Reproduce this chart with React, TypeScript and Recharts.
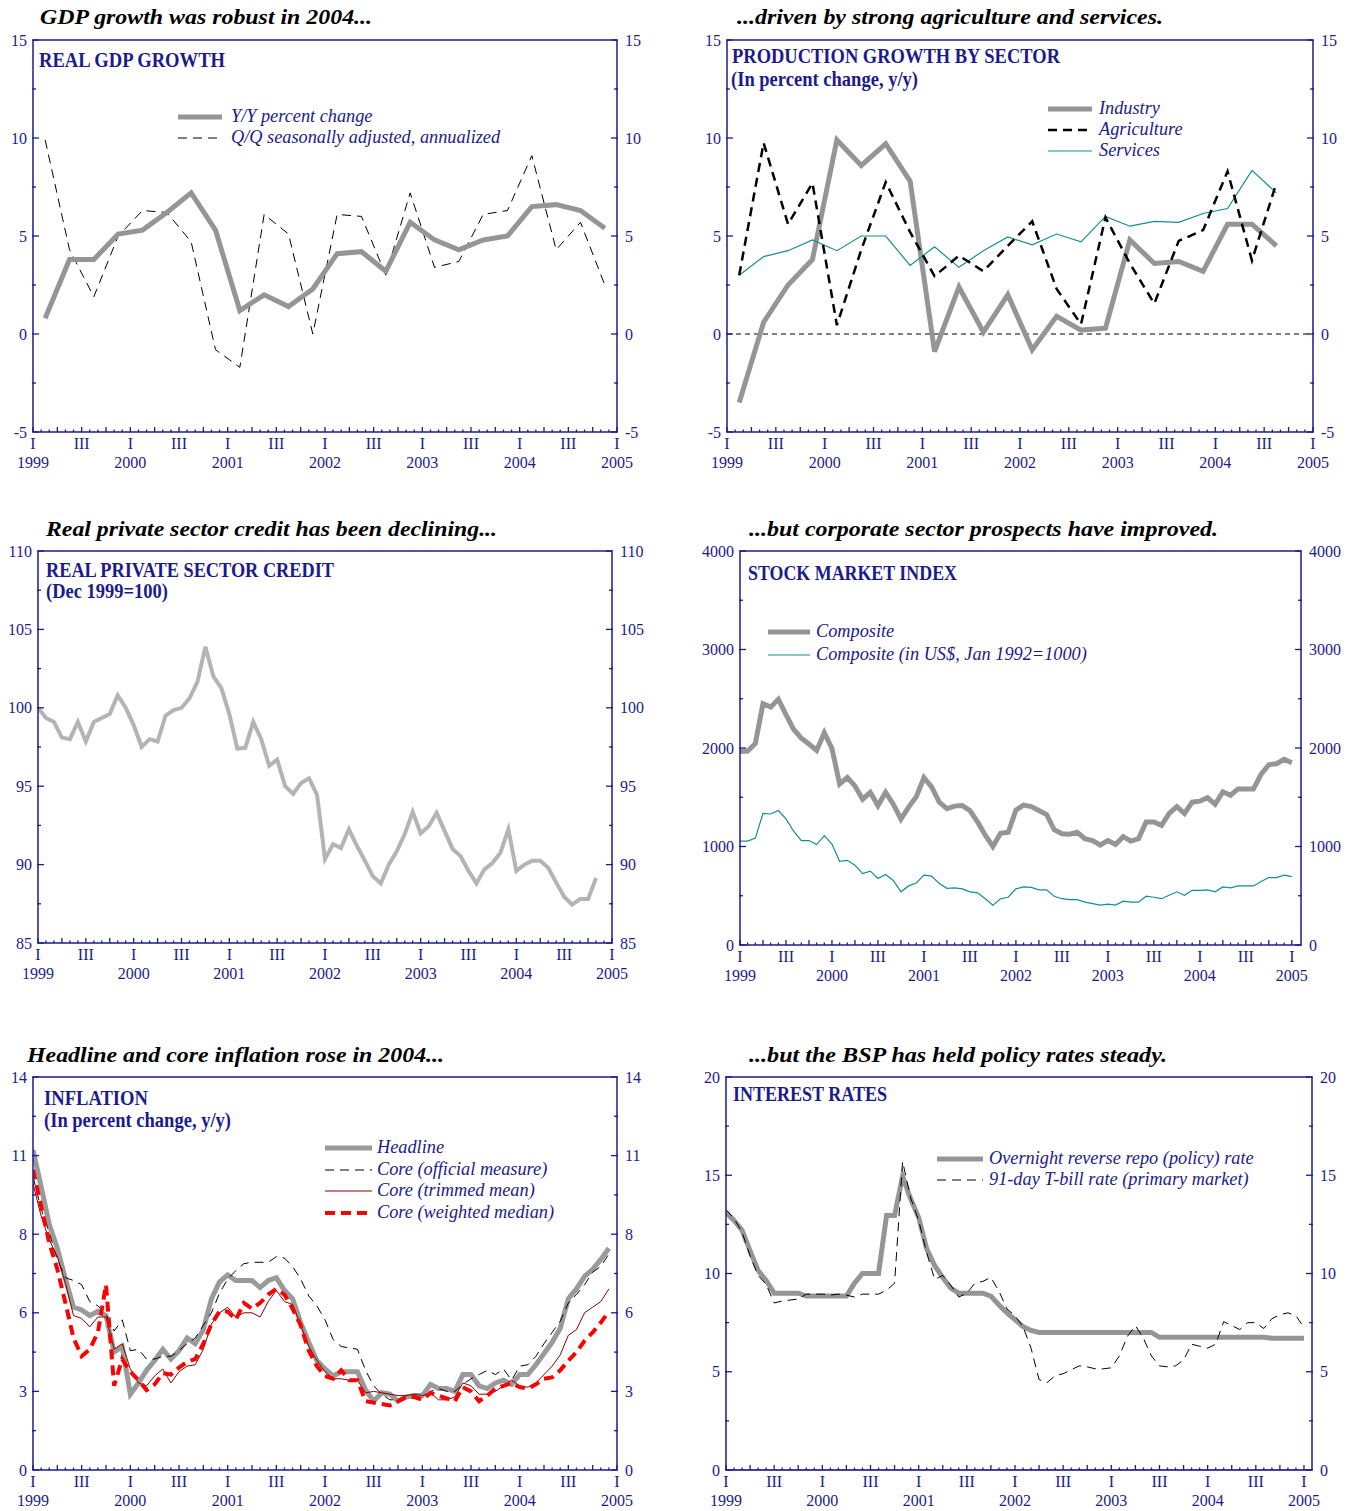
import React from 'react';
import { LineChart, Line, XAxis, YAxis, ReferenceLine } from 'recharts';

const NAVY = '#1b1b8c';
const SERIF = '"Liberation Serif", "Times New Roman", Times, serif';
const GRAY = '#959595';

// ---------- Panel 1: Real GDP growth (quarterly, 1999Q1-2004Q4) ----------
const gdpYoY = [0.8, 3.8, 3.8, 5.1, 5.3, 6.2, 7.2, 5.3, 1.2, 2.0, 1.4, 2.3, 4.1, 4.2, 3.2, 5.7, 4.8, 4.3, 4.8, 5.0, 6.5, 6.6, 6.3, 5.4];
const gdpQoQ = [9.9, 4.3, 1.9, 5.0, 6.3, 6.2, 4.7, -0.8, -1.7, 6.1, 5.1, 0.0, 6.1, 6.0, 3.0, 7.2, 3.4, 3.7, 6.1, 6.3, 9.1, 4.3, 5.7, 2.5];

// ---------- Panel 2: Production growth by sector (quarterly, 1999Q1-2004Q3) ----------
const industry = [-3.5, 0.6, 2.5, 3.8, 9.9, 8.6, 9.7, 7.8, -0.9, 2.4, 0.1, 2.0, -0.8, 0.9, 0.2, 0.3, 4.8, 3.6, 3.7, 3.2, 5.6, 5.6, 4.5];
const agriculture = [3.0, 9.75, 5.6, 7.7, 0.45, 4.3, 7.75, 5.2, 2.95, 4.0, 3.2, 4.5, 5.75, 2.3, 0.5, 5.95, 3.6, 1.55, 4.75, 5.3, 8.3, 3.75, 7.7];
const services = [3.0, 3.95, 4.25, 4.8, 4.25, 5.0, 5.0, 3.5, 4.45, 3.4, 4.25, 4.95, 4.55, 5.1, 4.7, 6.0, 5.5, 5.75, 5.7, 6.15, 6.4, 8.35, 7.2];

// ---------- Panel 3: Real private sector credit (monthly, Jan 1999-Nov 2004) ----------
const credit = [
  100.0, 99.35, 99.1, 98.1, 98.0, 99.1, 97.85, 99.1, 99.35, 99.6,
  100.8, 100.0, 98.9, 97.5, 98.0, 97.85, 99.5, 99.85, 100.0, 100.6,
  101.65, 103.9, 102.0, 101.25, 99.6, 97.4, 97.45, 99.1, 98.0, 96.3,
  96.7, 95.0, 94.5, 95.2, 95.5, 94.45, 90.35, 91.3, 91.05, 92.25,
  91.2, 90.25, 89.25, 88.8, 90.0, 90.85, 91.95, 93.35, 92.0, 92.45,
  93.3, 92.15, 91.0, 90.55, 89.6, 88.8, 89.7, 90.1, 90.75, 92.25,
  89.6, 90.0, 90.25, 90.25, 89.8, 88.85, 87.95, 87.45, 87.8, 87.8,
  89.15,
];

// ---------- Panel 4: Stock market index (monthly, Jan 1999-Jan 2005) ----------
const composite = [
  1965, 1970, 2045, 2450, 2415, 2495, 2340, 2190, 2100, 2040,
  1975, 2155, 1995, 1635, 1700, 1615, 1480, 1550, 1415, 1550,
  1430, 1280, 1400, 1505, 1700, 1605, 1450, 1385, 1410, 1415,
  1365, 1250, 1115, 1000, 1135, 1145, 1370, 1420, 1405, 1365,
  1325, 1170, 1130, 1125, 1145, 1080, 1060, 1015, 1060, 1020,
  1100, 1055, 1080, 1250, 1250, 1215, 1335, 1405, 1335, 1450,
  1460, 1495, 1430, 1555, 1520, 1585, 1585, 1585, 1735, 1830,
  1840, 1885, 1850,
];
const compositeUSD = [
  1055, 1055, 1085, 1335, 1330, 1365, 1280, 1155, 1060, 1060,
  1020, 1110, 1025, 850, 860, 810, 725, 750, 675, 715,
  655, 540, 600, 630, 710, 700, 625, 575, 580, 570,
  540, 530, 470, 405, 470, 485, 570, 590, 585, 560,
  560, 495, 470, 460, 460, 435, 420, 405, 415, 405,
  445, 435, 435, 495, 485, 470, 505, 540, 505, 555,
  555, 560, 540, 590, 580, 600, 600, 600, 645, 685,
  685, 710, 695,
];

// ---------- Panel 5: Inflation (monthly, Jan 1999-Dec 2004) ----------
const headline = [
  11.4, 10.1, 8.75, 7.9, 6.8, 5.8, 5.7, 5.5, 5.65, 5.5,
  4.2, 4.4, 2.7, 3.1, 3.55, 3.9, 4.3, 3.95, 4.25, 4.7,
  4.5, 5.0, 6.1, 6.7, 6.95, 6.75, 6.75, 6.75, 6.5, 6.75,
  6.85, 6.4, 6.1, 5.25, 4.55, 3.9, 3.6, 3.35, 3.5, 3.5,
  3.5, 2.85, 2.45, 2.75, 2.7, 2.45, 2.6, 2.65, 2.65, 3.05,
  2.9, 2.9, 2.8, 3.4, 3.4, 3.0, 2.9, 3.1, 3.2, 3.05,
  3.4, 3.4, 3.75, 4.15, 4.55, 5.05, 6.1, 6.45, 6.9, 7.15,
  7.5, 7.9,
];
const coreOfficial = [
  10.45, 9.3, 8.45, 7.5, 6.85, 6.75, 6.6, 6.0, 5.85, 5.55,
  4.95, 5.35, 4.25, 4.3, 3.95, 3.95, 4.05, 4.05, 4.25, 4.5,
  4.7, 5.15, 5.6, 6.3, 6.8, 7.1, 7.35, 7.4, 7.4, 7.4,
  7.6, 7.55, 7.25, 6.8, 6.2, 5.85, 5.35, 4.65, 4.4, 4.35,
  4.3, 3.55, 3.0, 2.7, 2.5, 2.5, 2.65, 2.65, 2.55, 2.8,
  2.9, 2.8, 2.8, 3.05, 3.25, 3.4, 3.55, 3.4, 3.6, 3.2,
  3.7, 3.75, 4.05, 4.5, 4.9, 5.3, 5.95, 6.25, 6.6, 7.05,
  7.25, 7.7,
];
const coreTrimmed = [
  10.2, 9.05, 8.2, 7.6, 6.65, 5.5, 5.4, 5.1, 5.45, 5.45,
  4.3, 4.5, 3.6, 3.1, 3.0, 3.35, 3.6, 3.1, 3.5, 3.7,
  3.75, 4.3, 5.2, 5.6, 5.8, 5.45, 5.6, 5.6, 5.45, 6.0,
  6.4, 6.0, 5.9, 5.15, 4.4, 3.9, 3.5, 3.25, 3.25, 3.2,
  3.2, 2.75, 2.8, 2.75, 2.7, 2.65, 2.65, 2.7, 2.65, 2.75,
  2.5, 2.5, 2.6, 3.1, 3.0, 2.7, 2.7, 2.8, 3.0, 3.2,
  3.0, 2.95, 3.1, 3.4, 3.7, 4.1, 4.8, 5.0, 5.6, 5.8,
  6.0, 6.45,
];
const coreWeighted = [
  10.7, 9.4, 8.1, 7.15, 5.95, 4.7, 4.05, 4.3, 4.9, 6.6,
  3.0, 3.95, 3.5, 3.2, 2.85, 3.05, 3.45, 3.4, 3.65, 3.85,
  3.95, 4.5, 5.2, 5.65, 5.65, 5.35, 5.95, 5.75, 5.95, 6.25,
  6.45, 6.25, 5.75, 5.15, 4.25, 3.7, 3.35, 3.25, 3.55, 3.2,
  3.2, 2.45, 2.4, 2.35, 2.3, 2.45, 2.6, 2.6, 2.5, 2.75,
  2.65, 2.55, 2.45, 2.95, 2.8, 2.45, 2.65, 2.9, 3.0, 3.1,
  2.95, 2.9, 3.05, 3.25, 3.3, 3.55, 3.9, 4.2, 4.6, 4.9,
  5.25, 5.65,
];

// ---------- Panel 6: Interest rates (monthly, Jan 1999-Jan 2005) ----------
const policyRate = [
  13.1, 12.7, 12.2, 11.15, 10.15, 9.65, 9.0, 9.0, 9.0, 9.0,
  8.85, 8.85, 8.85, 8.85, 8.85, 8.85, 9.5, 10.0, 10.0, 10.0,
  12.95, 12.95, 14.95, 13.8, 12.85, 11.25, 10.4, 9.8, 9.25, 9.0,
  9.0, 9.0, 9.0, 8.85, 8.4, 8.0, 7.65, 7.3, 7.1, 7.0,
  7.0, 7.0, 7.0, 7.0, 7.0, 7.0, 7.0, 7.0, 7.0, 7.0,
  7.0, 7.0, 7.0, 7.0, 6.75, 6.75, 6.75, 6.75, 6.75, 6.75,
  6.75, 6.75, 6.75, 6.75, 6.75, 6.75, 6.75, 6.75, 6.7, 6.7,
  6.7, 6.7, 6.7,
];
const tbill = [
  13.25, 12.8, 12.1, 10.9, 9.9, 9.45, 8.5, 8.6, 8.65, 8.7,
  8.95, 8.95, 8.95, 8.9, 8.95, 8.9, 8.8, 8.95, 8.95, 8.95,
  9.15, 9.5, 15.7, 13.85, 12.7, 11.05, 9.7, 9.9, 9.4, 8.8,
  9.0, 9.5, 9.6, 9.8, 9.1, 8.2, 7.85, 7.3, 6.2, 4.6,
  4.45, 4.8, 4.9, 5.1, 5.3, 5.25, 5.15, 5.15, 5.2, 5.8,
  6.8, 7.35, 6.7, 5.8, 5.3, 5.25, 5.3, 5.6, 6.4, 6.3,
  6.2, 6.4, 7.55, 7.35, 7.15, 7.5, 7.5, 7.2, 7.7, 7.9,
  8.0, 7.85, 7.25,
];

// ---------- Axis ticks ----------
const monthTicks = Array.from({ length: 73 }, (_, i) => i);
const startYear = 1999;

function quarterRows(series: Record<string, number[]>) {
  const n = Math.max(...Object.values(series).map((a) => a.length));
  return Array.from({ length: n }, (_, i) => {
    const row: any = { x: 3 * i + 1.5 };
    for (const k in series) row[k] = series[k][i];
    return row;
  });
}
function monthRows(series: Record<string, number[]>) {
  const n = Math.max(...Object.values(series).map((a) => a.length));
  return Array.from({ length: n }, (_, i) => {
    const row: any = { x: i };
    for (const k in series) row[k] = series[k][i];
    return row;
  });
}

const XTick = (props: any) => {
  const { x, y, payload } = props;
  const v = Math.round(payload.value);
  const isQ = v % 3 === 0;
  const len = isQ ? 5 : 2.5;
  let q = '';
  if (v % 12 === 0) q = 'I';
  else if (v % 12 === 6) q = 'III';
  return (
    <g>
      <line x1={x} x2={x} y1={y} y2={y - len} stroke={NAVY} strokeWidth={1.3} />
      {q && (
        <text x={x} y={y + 16.5} textAnchor="middle" fill={NAVY} fontSize={16} fontFamily={SERIF}>
          {q}
        </text>
      )}
      {v % 12 === 0 && (
        <text x={x} y={y + 35.5} textAnchor="middle" fill={NAVY} fontSize={16} fontFamily={SERIF}>
          {startYear + v / 12}
        </text>
      )}
    </g>
  );
};

const makeYTick = (side: 'left' | 'right', majors: number[], fmt: (v: number) => string) => (props: any) => {
  const { x, y, payload } = props;
  const v = payload.value;
  const isMajor = majors.some((m) => Math.abs(m - v) < 1e-6);
  const len = isMajor ? 6 : 3;
  const dir = side === 'left' ? 1 : -1;
  return (
    <g>
      <line x1={x - dir} x2={x + dir * len} y1={y} y2={y} stroke={NAVY} strokeWidth={1.3} />
      {isMajor && (
        <text
          x={side === 'left' ? x - 6 : x + 8}
          y={y}
          dy="0.35em"
          textAnchor={side === 'left' ? 'end' : 'start'}
          fill={NAVY}
          fontSize={16}
          fontFamily={SERIF}
        >
          {fmt(v)}
        </text>
      )}
    </g>
  );
};

type LineSpec = { key: string; stroke: string; width: number; dash?: string };

type PanelProps = {
  left: number;
  top: number;
  w: number;
  h: number;
  xMax: number;
  yMin: number;
  yMax: number;
  majors: number[];
  minors: number[];
  fmt?: (v: number) => string;
  data: any[];
  lines: LineSpec[];
  zero?: { stroke: string; dash?: string; width: number };
};

const AXW = 50;
const MT = 12;
const XH = 45;

function Panel(p: PanelProps) {
  const fmt = p.fmt || ((v: number) => String(v));
  const ticks = [...p.majors, ...p.minors].sort((a, b) => a - b);
  const axisLine = { stroke: NAVY, strokeWidth: 1.5 };
  return (
    <div style={{ position: 'absolute', left: p.left - AXW, top: p.top - MT }}>
      <LineChart width={p.w + 2 * AXW} height={p.h + MT + XH} data={p.data} margin={{ top: MT, right: 0, bottom: 0, left: 0 }}>
        <XAxis
          type="number"
          dataKey="x"
          domain={[0, p.xMax]}
          ticks={monthTicks}
          interval={0}
          tickSize={0}
          tickMargin={0}
          tickLine={false}
          axisLine={axisLine}
          tick={XTick}
          height={XH}
          allowDataOverflow
        />
        <YAxis
          yAxisId="l"
          orientation="left"
          width={AXW}
          type="number"
          domain={[p.yMin, p.yMax]}
          ticks={ticks}
          interval={0}
          tickSize={0}
          tickMargin={0}
          tickLine={false}
          axisLine={axisLine}
          tick={makeYTick('left', p.majors, fmt)}
          allowDataOverflow
        />
        <YAxis
          yAxisId="r"
          orientation="right"
          width={AXW}
          type="number"
          domain={[p.yMin, p.yMax]}
          ticks={ticks}
          interval={0}
          tickSize={0}
          tickMargin={0}
          tickLine={false}
          axisLine={axisLine}
          tick={makeYTick('right', p.majors, fmt)}
          allowDataOverflow
        />
        <ReferenceLine yAxisId="l" y={p.yMax} stroke={NAVY} strokeWidth={1.5} />
        {p.zero && (
          <ReferenceLine yAxisId="l" y={0} stroke={p.zero.stroke} strokeWidth={p.zero.width} strokeDasharray={p.zero.dash} />
        )}
        {p.lines.map((l) => (
          <Line
            key={l.key}
            yAxisId="l"
            type="linear"
            dataKey={l.key}
            stroke={l.stroke}
            strokeWidth={l.width}
            strokeDasharray={l.dash}
            dot={false}
            activeDot={false}
            isAnimationActive={false}
          />
        ))}
      </LineChart>
    </div>
  );
}

const Txt = (props: any) => {
  const { x, y, size, weight, italic, len, fill, children } = props;
  return (
    <text
      x={x}
      y={y}
      fontFamily={SERIF}
      fontSize={size}
      fontWeight={weight || 'normal'}
      fontStyle={italic ? 'italic' : 'normal'}
      fill={fill || NAVY}
      textLength={len}
      lengthAdjust={len ? 'spacingAndGlyphs' : undefined}
    >
      {children}
    </text>
  );
};

const Sample = ({ x1, x2, y, stroke, width, dash }: any) => (
  <line x1={x1} x2={x2} y1={y} y2={y} stroke={stroke} strokeWidth={width} strokeDasharray={dash} />
);

const TITLE = 22;
const HEAD = 20;
const LEG = 18.3;

export default function App() {
  const p1 = quarterRows({ yoy: gdpYoY, qoq: gdpQoQ });
  const p2 = quarterRows({ ind: industry, agr: agriculture, srv: services });
  const p3 = monthRows({ credit });
  const p4 = monthRows({ comp: composite, usd: compositeUSD });
  const p5 = monthRows({ head: headline, off: coreOfficial, trim: coreTrimmed, wmed: coreWeighted });
  const p6 = monthRows({ rrp: policyRate, tb: tbill });

  return (
    <div style={{ position: 'absolute', left: 0, top: 0, width: 1351, height: 1511, background: '#fff' }}>
      <Panel
        left={33} top={40} w={584} h={392} xMax={72} yMin={-5} yMax={15}
        majors={[-5, 0, 5, 10, 15]} minors={[-2.5, 2.5, 7.5, 12.5]}
        data={p1}
        lines={[
          { key: 'qoq', stroke: '#000', width: 1, dash: '9 6' },
          { key: 'yoy', stroke: GRAY, width: 5 },
        ]}
      />
      <Panel
        left={727} top={40} w={586} h={392} xMax={72} yMin={-5} yMax={15}
        majors={[-5, 0, 5, 10, 15]} minors={[-2.5, 2.5, 7.5, 12.5]}
        data={p2}
        zero={{ stroke: '#000', width: 1.2, dash: '5 4' }}
        lines={[
          { key: 'ind', stroke: GRAY, width: 5 },
          { key: 'srv', stroke: '#12908e', width: 1.2 },
          { key: 'agr', stroke: '#000', width: 2.5, dash: '9 6' },
        ]}
      />
      <Panel
        left={38} top={551} w={574} h={392} xMax={72} yMin={85} yMax={110}
        majors={[85, 90, 95, 100, 105, 110]} minors={[87.5, 92.5, 97.5, 102.5, 107.5]}
        data={p3}
        lines={[{ key: 'credit', stroke: '#b4b4b4', width: 4 }]}
      />
      <Panel
        left={740} top={551} w={561} h={394} xMax={73.2} yMin={0} yMax={4000}
        majors={[0, 1000, 2000, 3000, 4000]} minors={[500, 1500, 2500, 3500]}
        data={p4}
        lines={[
          { key: 'comp', stroke: GRAY, width: 5 },
          { key: 'usd', stroke: '#12908e', width: 1.2 },
        ]}
      />
      <Panel
        left={33} top={1077} w={584} h={393} xMax={72} yMin={0} yMax={14}
        majors={[0, 2.8, 5.6, 8.4, 11.2, 14]} minors={[1.4, 4.2, 7, 9.8, 12.6]}
        fmt={(v) => String(Math.round(v))}
        data={p5}
        lines={[
          { key: 'head', stroke: '#9a9a9a', width: 5 },
          { key: 'off', stroke: '#000', width: 1, dash: '9 6' },
          { key: 'trim', stroke: '#8b0000', width: 1 },
          { key: 'wmed', stroke: '#ff0000', width: 4, dash: '10 6' },
        ]}
      />
      <Panel
        left={726} top={1077} w={586} h={393} xMax={73} yMin={0} yMax={20}
        majors={[0, 5, 10, 15, 20]} minors={[2.5, 7.5, 12.5, 17.5]}
        data={p6}
        zero={{ stroke: '#cc4488', width: 1.2 }}
        lines={[
          { key: 'rrp', stroke: GRAY, width: 5 },
          { key: 'tb', stroke: '#000', width: 1, dash: '9 6' },
        ]}
      />

      <svg width={1351} height={1511} style={{ position: 'absolute', left: 0, top: 0, pointerEvents: 'none' }}>
        {/* Panel titles */}
        <Txt x={40} y={24} size={TITLE} weight="bold" italic fill="#000" len={332}>GDP growth was robust in 2004...</Txt>
        <Txt x={737} y={24} size={TITLE} weight="bold" italic fill="#000" len={426}>...driven by strong agriculture and services.</Txt>
        <Txt x={46} y={536} size={TITLE} weight="bold" italic fill="#000" len={451}>Real private sector credit has been declining...</Txt>
        <Txt x={749} y={536} size={TITLE} weight="bold" italic fill="#000" len={469}>...but corporate sector prospects have improved.</Txt>
        <Txt x={27} y={1062} size={TITLE} weight="bold" italic fill="#000" len={417}>Headline and core inflation rose in 2004...</Txt>
        <Txt x={749} y={1062} size={TITLE} weight="bold" italic fill="#000" len={418}>...but the BSP has held policy rates steady.</Txt>

        {/* Chart headings */}
        <Txt x={39} y={67} size={HEAD} weight="bold" len={186}>REAL GDP GROWTH</Txt>
        <Txt x={732} y={63} size={HEAD} weight="bold" len={328}>PRODUCTION GROWTH BY SECTOR</Txt>
        <Txt x={731} y={86} size={HEAD} weight="bold" len={187}>(In percent change, y/y)</Txt>
        <Txt x={46} y={577} size={HEAD} weight="bold" len={288}>REAL PRIVATE SECTOR CREDIT</Txt>
        <Txt x={46} y={598} size={HEAD} weight="bold" len={122}>(Dec 1999=100)</Txt>
        <Txt x={748} y={580} size={HEAD} weight="bold" len={209}>STOCK MARKET INDEX</Txt>
        <Txt x={44} y={1105} size={HEAD} weight="bold" len={104}>INFLATION</Txt>
        <Txt x={44} y={1127} size={HEAD} weight="bold" len={187}>(In percent change, y/y)</Txt>
        <Txt x={733} y={1101} size={HEAD} weight="bold" len={154}>INTEREST RATES</Txt>

        {/* Legends */}
        <Sample x1={178} x2={222} y={117} stroke={GRAY} width={5} />
        <Txt x={231} y={122} size={LEG} italic>Y/Y percent change</Txt>
        <Sample x1={178} x2={222} y={138} stroke="#000" width={1} dash="9 6" />
        <Txt x={231} y={143} size={LEG} italic>Q/Q seasonally adjusted, annualized</Txt>

        <Sample x1={1048} x2={1092} y={109} stroke={GRAY} width={5} />
        <Txt x={1099} y={114} size={LEG} italic>Industry</Txt>
        <Sample x1={1048} x2={1092} y={130} stroke="#000" width={2.5} dash="9 6" />
        <Txt x={1099} y={135} size={LEG} italic>Agriculture</Txt>
        <Sample x1={1048} x2={1092} y={151} stroke="#12908e" width={1.2} />
        <Txt x={1099} y={156} size={LEG} italic>Services</Txt>

        <Sample x1={768} x2={810} y={632} stroke={GRAY} width={5} />
        <Txt x={816} y={637} size={LEG} italic>Composite</Txt>
        <Sample x1={768} x2={810} y={655} stroke="#12908e" width={1.2} />
        <Txt x={816} y={660} size={LEG} italic>Composite (in US$, Jan 1992=1000)</Txt>

        <Sample x1={325} x2={372} y={1148} stroke="#9a9a9a" width={5} />
        <Txt x={377} y={1153} size={LEG} italic>Headline</Txt>
        <Sample x1={325} x2={372} y={1170} stroke="#000" width={1} dash="9 6" />
        <Txt x={377} y={1175} size={LEG} italic>Core (official measure)</Txt>
        <Sample x1={325} x2={372} y={1191} stroke="#8b0000" width={1} />
        <Txt x={377} y={1196} size={LEG} italic>Core (trimmed mean)</Txt>
        <Sample x1={325} x2={372} y={1213} stroke="#ff0000" width={4} dash="10 6" />
        <Txt x={377} y={1218} size={LEG} italic>Core (weighted median)</Txt>

        <Sample x1={937} x2={983} y={1159} stroke={GRAY} width={5} />
        <Txt x={989} y={1164} size={LEG} italic>Overnight reverse repo (policy) rate</Txt>
        <Sample x1={937} x2={983} y={1180} stroke="#000" width={1} dash="9 6" />
        <Txt x={989} y={1185} size={LEG} italic>91-day T-bill rate (primary market)</Txt>
      </svg>
    </div>
  );
}
